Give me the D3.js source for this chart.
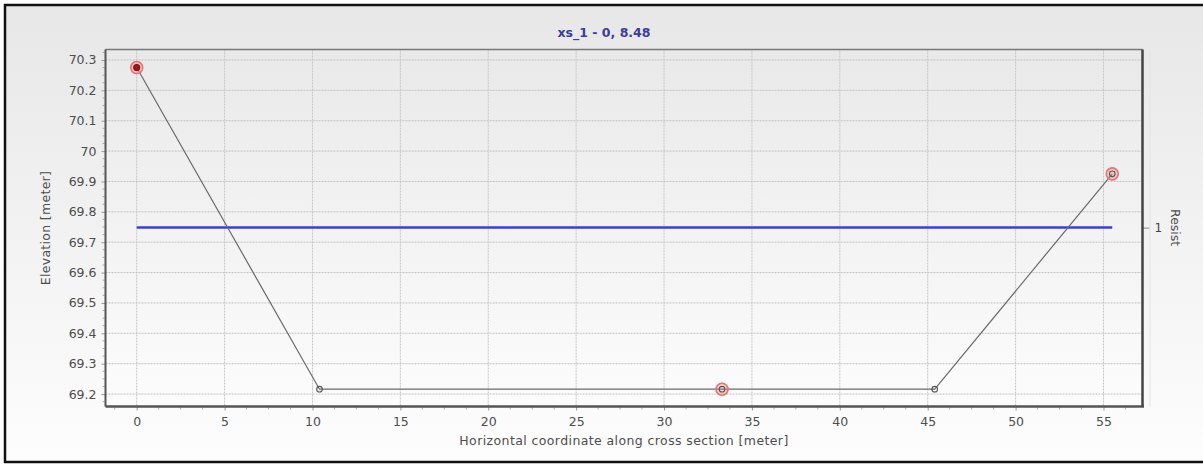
<!DOCTYPE html>
<html><head><meta charset="utf-8">
<script src="https://cdn.jsdelivr.net/npm/d3@7"></script>
<style>html,body{margin:0;padding:0;background:#fff;}svg{display:block;}</style>
</head><body>
<svg id="c" width="1203" height="465"></svg>
<script>
// ---- data ----
const profileX = [0, 10.4, 33.3, 45.4, 55.5];
const profileY = [70.275, 69.216, 69.216, 69.216, 69.925];
const markerIdx = [0, 2, 4];
const resistX = [0, 55.5];
const resistY = [69.748, 69.748];
const xTicks = [0, 5, 10, 15, 20, 25, 30, 35, 40, 45, 50, 55];
const yTicks = [69.2, 69.3, 69.4, 69.5, 69.6, 69.7, 69.8, 69.9, 70, 70.1, 70.2, 70.3];
const rightTickLabels = ["1"];
const title = "xs_1 - 0, 8.48";
const xTitle = "Horizontal coordinate along cross section [meter]";
const yTitle = "Elevation [meter]";
const rTitle = "Resist";

const FONT = "DejaVu Sans, Verdana, sans-serif";
const svg = d3.select("#c");
const W = 1203, H = 465;
const L = 105.5, R = 1142.5, T = 49.5, B = 406.5;

const defs = svg.append("defs");
const g1 = defs.append("linearGradient").attr("id","bg").attr("x1",0).attr("y1",0).attr("x2",0).attr("y2",1);
g1.append("stop").attr("offset","0%").attr("stop-color","#e7e7e7");
g1.append("stop").attr("offset","100%").attr("stop-color","#fdfdfd");
const g2 = defs.append("linearGradient").attr("id","pbg").attr("x1",0).attr("y1",0).attr("x2",0).attr("y2",1);
g2.append("stop").attr("offset","0%").attr("stop-color","#e9e9e9");
g2.append("stop").attr("offset","100%").attr("stop-color","#fcfcfc");

svg.append("rect").attr("x",0).attr("y",0).attr("width",W).attr("height",H).attr("fill","#fff");
svg.append("rect").attr("x",5).attr("y",5).attr("width",W+10).attr("height",457).attr("fill","url(#bg)")
  .attr("stroke","#111").attr("stroke-width",2.5);

const x = d3.scaleLinear().domain([-1.775, 57.22]).range([L, R]);
const y = d3.scaleLinear().domain([69.159, 70.3345]).range([B, T]);

svg.append("rect").attr("x",L).attr("y",T).attr("width",R-L).attr("height",B-T).attr("fill","url(#pbg)");

// grid
const grid = svg.append("g");
grid.selectAll("line.v").data(xTicks).join("line")
  .attr("x1",d=>x(d)).attr("x2",d=>x(d)).attr("y1",T).attr("y2",B)
  .attr("stroke","#c6c6c6").attr("stroke-width",1).attr("stroke-dasharray","2,1");
grid.selectAll("line.h").data(yTicks).join("line")
  .attr("y1",d=>y(d)).attr("y2",d=>y(d)).attr("x1",L).attr("x2",R)
  .attr("stroke","#c2c2c2").attr("stroke-width",1).attr("stroke-dasharray","2,1");

// minor ticks
const minorX = d3.range(-1.25, 57.2, 1.25).filter(v => Math.abs(v/5 - Math.round(v/5)) > 1e-6);
svg.append("g").selectAll("line").data(minorX).join("line")
  .attr("x1",d=>x(d)).attr("x2",d=>x(d)).attr("y1",B+1).attr("y2",B+3)
  .attr("stroke","#aaa").attr("stroke-width",1);
const minorY = d3.range(69.175, 70.33, 0.025).filter(v => Math.abs(v*10 - Math.round(v*10)) > 1e-4);
svg.append("g").selectAll("line").data(minorY).join("line")
  .attr("y1",d=>y(d)).attr("y2",d=>y(d)).attr("x1",L-3).attr("x2",L-1)
  .attr("stroke","#aaa").attr("stroke-width",1);

// axes
const xAxis = d3.axisBottom(x).tickValues(xTicks).tickFormat(d3.format("d")).tickSize(4).tickPadding(7);
const gx = svg.append("g").attr("transform",`translate(0,${B})`).call(xAxis);
gx.select(".domain").remove();
gx.selectAll(".tick line").attr("stroke","#999");
gx.selectAll("text").attr("fill","#4d4d4d").style("font-family",FONT).style("font-size","12.5px");

const yAxis = d3.axisLeft(y).tickValues(yTicks).tickFormat(d => String(+d.toFixed(1))).tickSize(4).tickPadding(5);
const gy = svg.append("g").attr("transform",`translate(${L},0)`).call(yAxis);
gy.select(".domain").remove();
gy.selectAll(".tick line").attr("stroke","#999");
gy.selectAll("text").attr("fill","#4d4d4d").style("font-family",FONT).style("font-size","12.5px");

// right axis
const yR = d3.scalePoint().domain(rightTickLabels).range([y(resistY[0]), y(resistY[0])]);
const rAxis = d3.axisRight(yR).tickSize(7).tickPadding(5);
const gr = svg.append("g").attr("transform",`translate(${R},0)`).call(rAxis);
gr.select(".domain").remove();
gr.selectAll(".tick line").attr("stroke","#888");
gr.selectAll("text").attr("fill","#444").style("font-family",FONT).style("font-size","12px");
svg.append("line").attr("x1",1150).attr("x2",1150).attr("y1",T+2).attr("y2",B).attr("stroke","#e4e4e4").attr("stroke-width",1);

// frame
svg.append("line").attr("x1",L).attr("x2",R).attr("y1",T).attr("y2",T).attr("stroke","#777").attr("stroke-width",1.5);
svg.append("line").attr("x1",L).attr("x2",L).attr("y1",T).attr("y2",B).attr("stroke","#555").attr("stroke-width",2);
svg.append("line").attr("x1",L).attr("x2",R+1.5).attr("y1",B).attr("y2",B).attr("stroke","#555").attr("stroke-width",2.5);
svg.append("line").attr("x1",R).attr("x2",R).attr("y1",T).attr("y2",B).attr("stroke","#444").attr("stroke-width",2.5);

// resist line
const lineR = d3.line().x((d,i)=>x(resistX[i])).y((d,i)=>y(resistY[i]));
svg.append("path").datum(resistX).attr("d",lineR).attr("fill","none").attr("stroke","#3a3ae6").attr("stroke-width",2.5);

// profile
const pts = profileX.map((v,i)=>[v, profileY[i]]);
svg.append("path").datum(pts).attr("d", d3.line().x(d=>x(d[0])).y(d=>y(d[1])))
  .attr("fill","none").attr("stroke","#6a6a6a").attr("stroke-width",1.2);

// markers
svg.append("g").selectAll("circle").data(markerIdx).join("circle")
  .attr("cx",i=>x(profileX[i])).attr("cy",i=>y(profileY[i])).attr("r",6)
  .attr("fill","rgba(240,130,130,0.35)").attr("stroke","#e57373").attr("stroke-width",1.6);
svg.append("g").selectAll("circle").data(pts).join("circle")
  .attr("cx",d=>x(d[0])).attr("cy",d=>y(d[1])).attr("r",(d,i)=>i===0?3:2.8)
  .attr("fill",(d,i)=>i===0?"#9b1b1b":"none").attr("stroke",(d,i)=>i===0?"#7a1010":"#555").attr("stroke-width",1.1);

// titles
svg.append("text").attr("x",604).attr("y",37).attr("text-anchor","middle")
  .attr("fill","#3c3c9c").style("font-family",FONT).style("font-size","12.5px").style("font-weight","bold").text(title);
svg.append("text").attr("x",(L+R)/2).attr("y",445).attr("text-anchor","middle")
  .attr("fill","#4d4d4d").style("font-family",FONT).style("font-size","12.5px").style("letter-spacing","0.4px").text(xTitle);
svg.append("text").attr("transform",`translate(50,${(T+B)/2}) rotate(-90)`).attr("text-anchor","middle")
  .attr("fill","#4d4d4d").style("font-family",FONT).style("font-size","12.5px").style("letter-spacing","0.3px").text(yTitle);
svg.append("text").attr("transform",`translate(1171,${y(resistY[0])}) rotate(90)`).attr("text-anchor","middle")
  .attr("fill","#4d4d4d").style("font-family",FONT).style("font-size","12.5px").text(rTitle);
</script>
</body></html>
